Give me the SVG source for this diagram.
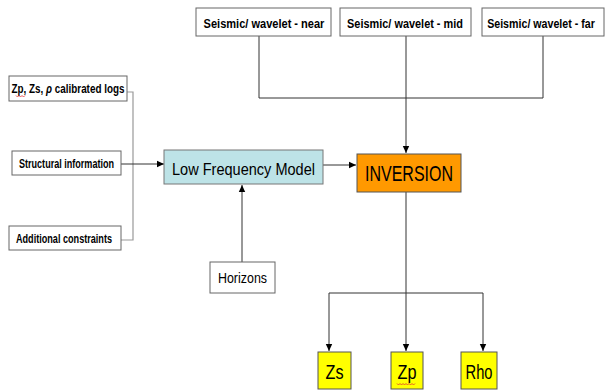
<svg xmlns="http://www.w3.org/2000/svg" width="605" height="391" viewBox="0 0 605 391">
<defs>
<style>
.box{fill:#fff;stroke:#666;stroke-width:1}
.sm{font-family:"Liberation Sans",Arial,sans-serif;font-weight:bold;font-size:13px;fill:#000;text-anchor:middle}
.lg{font-family:"Liberation Sans",Arial,sans-serif;fill:#000;text-anchor:middle}
.ln{fill:none;stroke:#333;stroke-width:1}
.gr{fill:none;stroke:#999;stroke-width:1.2}
.sq{fill:none;stroke:#e03030;stroke-width:0.8}
</style>
<marker id="ah" markerWidth="8" markerHeight="8" refX="7" refY="4" orient="auto" markerUnits="userSpaceOnUse">
<path d="M0,0.8 L7,4 L0,7.2 Z" fill="#000"/>
</marker>
</defs>
<g id="connectors">
<path class="ln" d="M259,36 V98 H543 V36"/>
<path class="ln" d="M406,36 V153" marker-end="url(#ah)"/>
<path class="gr" d="M127,92 H133 V240 H121"/>
<path class="ln" d="M121,164 H164" marker-end="url(#ah)"/>
<path class="ln" d="M323,165 H356" marker-end="url(#ah)"/>
<path class="ln" d="M242,262 V185" marker-end="url(#ah)"/>
<path class="ln" d="M406,192 V293 M329,293 H483"/>
<path class="ln" d="M329,293 V351" marker-end="url(#ah)"/>
<path class="ln" d="M406,293 V351" marker-end="url(#ah)"/>
<path class="ln" d="M483,293 V351" marker-end="url(#ah)"/>
</g>
<g id="seis-near">
<rect class="box" x="196" y="8" width="135" height="28"/>
<text class="sm" transform="translate(264,28) scale(0.85,1)">Seismic/ wavelet - near</text>
</g>
<g id="seis-mid">
<rect class="box" x="340" y="8" width="131" height="28"/>
<text class="sm" transform="translate(405,28) scale(0.84,1)">Seismic/ wavelet - mid</text>
</g>
<g id="seis-far">
<rect class="box" x="482" y="8" width="122" height="28"/>
<text class="sm" transform="translate(541,28) scale(0.82,1)">Seismic/ wavelet - far</text>
</g>
<g id="logs">
<rect class="box" x="9" y="76" width="118" height="25"/>
<text class="sm" font-size="12" transform="translate(68,93) scale(0.76,1)">Zp, Zs, <tspan font-style="italic">ρ</tspan> calibrated logs</text>
<path class="sq" d="M16,95.5 l1.5,1.5 l1.5,-1.5 l1.5,1.5 l1.5,-1.5 l1.5,1.5 l1.5,-1.5"/>
</g>
<g id="structural">
<rect class="box" x="12" y="151" width="109" height="24"/>
<text class="sm" x="66.5" y="168" font-size="12" textLength="95" lengthAdjust="spacingAndGlyphs">Structural information</text>
</g>
<g id="constraints">
<rect class="box" x="9" y="226" width="112" height="24"/>
<text class="sm" x="64" y="243" font-size="12" textLength="96" lengthAdjust="spacingAndGlyphs">Additional constraints</text>
</g>
<g id="lfm">
<rect x="164" y="150" width="159" height="34" fill="#bde3e7" stroke="#777" stroke-width="1"/>
<text class="lg" x="243.5" y="175" font-size="17" textLength="143" lengthAdjust="spacingAndGlyphs">Low Frequency Model</text>
</g>
<g id="inversion">
<rect x="357" y="154" width="104" height="38" fill="#ff9900" stroke="#555" stroke-width="1"/>
<text class="lg" x="409" y="181" font-size="22" textLength="88" lengthAdjust="spacingAndGlyphs">INVERSION</text>
</g>
<g id="horizons">
<rect class="box" x="210" y="262" width="65" height="31"/>
<text class="lg" x="242.5" y="283" font-size="15" textLength="49" lengthAdjust="spacingAndGlyphs">Horizons</text>
</g>
<g id="zs">
<rect x="318" y="352" width="33" height="37" fill="#ffff00" stroke="#555" stroke-width="1"/>
<text class="lg" x="334.5" y="379" font-size="20" textLength="18" lengthAdjust="spacingAndGlyphs">Zs</text>
</g>
<g id="zp">
<rect x="391" y="352" width="32" height="37" fill="#ffff00" stroke="#555" stroke-width="1"/>
<text class="lg" x="407" y="379" font-size="20" textLength="19" lengthAdjust="spacingAndGlyphs">Zp</text>
<path class="sq" d="M397,383.5 l1.5,1.5 l1.5,-1.5 l1.5,1.5 l1.5,-1.5 l1.5,1.5 l1.5,-1.5 l1.5,1.5 l1.5,-1.5 l1.5,1.5 l1.5,-1.5 l1.5,1.5 l1.5,-1.5"/>
</g>
<g id="rho">
<rect x="461" y="352" width="36" height="37" fill="#ffff00" stroke="#555" stroke-width="1"/>
<text class="lg" x="479" y="379" font-size="20" textLength="27" lengthAdjust="spacingAndGlyphs">Rho</text>
</g>
</svg>
